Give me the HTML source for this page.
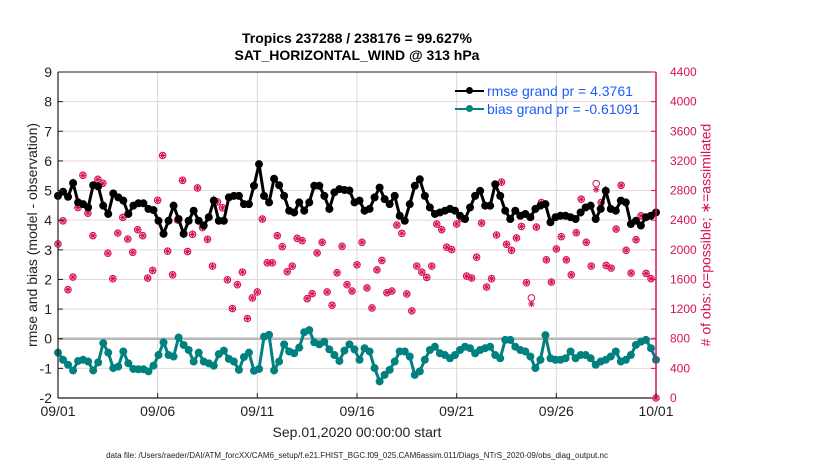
<!DOCTYPE html>
<html><head><meta charset="utf-8"><style>
body{margin:0;background:#fff;}
svg{display:block;font-family:"Liberation Sans",Arial,sans-serif;}
</style></head><body>
<svg id="chart" width="830" height="470"></svg>
<script>
const dayLabels=["09/01","09/06","09/11","09/16","09/21","09/26","10/01"];
const leftTicks=[-2,-1,0,1,2,3,4,5,6,7,8,9];
const rightTicks=[0,400,800,1200,1600,2000,2400,2800,3200,3600,4000,4400];
const rmse=[4.82,4.96,4.79,5.25,4.60,4.54,4.43,5.18,5.14,4.49,4.21,4.90,4.77,4.66,4.21,4.49,4.57,4.57,4.38,4.34,3.98,3.54,3.98,4.49,4.04,3.54,3.98,4.32,3.98,3.82,
4.10,4.66,3.98,3.98,4.77,4.82,4.82,4.54,4.54,5.16,5.89,4.82,4.60,5.40,5.18,4.82,4.32,4.26,4.60,4.32,4.60,5.16,5.16,4.82,4.38,4.94,5.05,5.02,5.00,4.60,4.66,
4.32,4.38,4.77,5.10,4.71,4.54,4.82,4.15,3.98,4.54,5.16,5.38,4.82,4.43,4.21,4.26,4.32,4.38,4.32,4.15,4.04,4.43,4.82,4.99,4.49,4.49,5.21,4.82,4.32,4.04,4.32,4.15,4.21,4.10,4.38,4.49,4.54,3.93,4.10,4.15,4.15,4.10,4.04,4.26,4.43,4.49,4.04,4.38,4.99,4.38,4.32,4.66,4.60,3.87,3.98,3.82,4.10,4.15,4.26];
const bias=[-0.47,-0.71,-0.88,-1.07,-0.75,-0.71,-0.77,-1.07,-0.80,-0.15,-0.47,-0.99,-0.94,-0.43,-0.83,-1.02,-1.03,-1.03,-1.10,-0.91,-0.55,-0.12,-0.55,-0.60,0.04,-0.21,-0.38,-0.77,-0.47,-0.77,
-0.83,-0.91,-0.52,-0.40,-0.68,-0.77,-1.05,-0.62,-0.47,-1.08,-1.02,0.07,0.13,-1.07,-0.77,-0.19,-0.43,-0.49,-0.30,0.22,0.29,-0.12,-0.19,-0.10,-0.36,-0.55,-0.75,-0.40,-0.19,-0.36,-0.71,
-0.32,-0.43,-0.99,-1.44,-1.22,-1.05,-0.77,-0.43,-0.43,-0.60,-1.22,-1.10,-0.71,-0.38,-0.27,-0.49,-0.55,-0.66,-0.55,-0.38,-0.27,-0.32,-0.49,-0.38,-0.32,-0.27,-0.55,-0.66,-0.04,-0.04,-0.27,-0.38,-0.43,-0.60,-0.99,-0.71,0.12,-0.66,-0.71,-0.71,-0.66,-0.43,-0.66,-0.55,-0.55,-0.66,-0.88,-0.77,-0.71,-0.60,-0.43,-0.77,-0.71,-0.55,-0.21,-0.10,-0.04,-0.32,-0.71];
const obs=[2079,2392,1462,1632,2571,3005,2495,2191,2951,2898,1954,1610,2227,2437,2146,1967,2272,2191,1619,1722,2669,3273,1981,1663,2401,2938,1976,2209,2835,2300,2142,1780,2647,2567,1596,1207,1529,1699,1073,1350,1431,2415,1824,1824,2191,2043,1704,1780,2155,2124,1341,1408,1958,2102,1431,1252,1690,2048,1529,1444,1798,2102,
1485,1216,1730,1856,1422,1444,2334,2222,1404,1176,1780,1699,1628,1780,2348,2272,2035,2003,2348,2424,1646,1619,1900,2361,1498,1610,2200,2915,2075,1994,2160,2316,1556,1310,2307,2638,1865,1565,2012,2178,1865,1663,2231,2683,2102,1780,2853,2638,1789,1753,2280,2871,1994,1686,2137,2459,1681,1610,0];
const obsOnlyIdx=[95,108];

const NS="http://www.w3.org/2000/svg";
const svg=document.getElementById('chart');
const X0=58,X1=656,Y0=72,Y1=398;
const xs=d=>X0+(d/30)*(X1-X0);
const yl=v=>Y1-(v+2)/11*(Y1-Y0);
const yr=v=>Y1-v/4400*(Y1-Y0);
function el(tag,attrs,parent){const e=document.createElementNS(NS,tag);for(const k in attrs)e.setAttribute(k,attrs[k]);(parent||svg).appendChild(e);return e;}
function txt(s,attrs,parent){const e=el('text',attrs,parent);e.textContent=s;return e;}

const grid=el('g',{});


leftTicks.forEach(v=>{el('line',{x1:X0,x2:X1,y1:yl(v),y2:yl(v),stroke:'#edd3dc','stroke-width':1},grid);});
dayLabels.forEach((l,i)=>{el('line',{x1:xs(i*5),x2:xs(i*5),y1:Y0,y2:Y1,stroke:'#d8d8d8','stroke-width':1},grid);});
const zl=el('line',{x1:X0,x2:X1,y1:yl(0),y2:yl(0),stroke:'#b8b8b8','stroke-width':2.5});



const og=el('g',{stroke:'#d8115a','stroke-width':1,fill:'none'});


const ostep=30/(obs.length-1);
obs.forEach((v,i)=>{
  const cx=xs(i*ostep),cy=yr(v);
  const only=obsOnlyIdx.includes(i);
  const g=el('g',{},og);
  
  
  el('circle',{cx:cx,cy:only?cy-3:cy,r:3.3},g);
  const a=3.3,ay=only?cy+3:cy;
  el('line',{x1:cx-a,x2:cx+a,y1:ay,y2:ay},g);
  el('line',{x1:cx,x2:cx,y1:ay-a,y2:ay+a},g);
  el('line',{x1:cx-2.3,x2:cx+2.3,y1:ay-2.3,y2:ay+2.3},g);
  el('line',{x1:cx-2.3,x2:cx+2.3,y1:ay+2.3,y2:ay-2.3},g);
});

function series(data,color,name){
  const g=el('g',{});
  
  
  const step=30/(data.length-1);
  el('polyline',{points:data.map((v,i)=>xs(i*step)+','+yl(v)).join(' '),fill:'none',stroke:color,'stroke-width':3},g);
  data.forEach((v,i)=>{
    const c=el('circle',{cx:xs(i*step),cy:yl(v),r:4,fill:color},g);
    
    
  });
}
series(rmse,'#000','rmse-series');
series(bias,'#00807f','bias-series');

const ax=el('g',{});


el('line',{x1:X0,x2:X0,y1:Y0,y2:Y1,stroke:'#2a1a1a','stroke-width':1.2},ax);
el('line',{x1:X0,x2:X1,y1:Y1,y2:Y1,stroke:'#2a1a1a','stroke-width':1.2},ax);
el('line',{x1:X0,x2:X1,y1:Y0,y2:Y0,stroke:'#2a1a1a','stroke-width':1},ax);
el('line',{x1:X1,x2:X1,y1:Y0,y2:Y1,stroke:'#d8115a','stroke-width':1.5},ax);
leftTicks.forEach(v=>{
  el('line',{x1:X0,x2:X0+5,y1:yl(v),y2:yl(v),stroke:'#2a1a1a'},ax);
  const t=txt(String(v),{x:X0-6,y:yl(v)+5,'text-anchor':'end','font-size':14,fill:'#222'},ax);
  
  
});
rightTicks.forEach(v=>{
  el('line',{x1:X1-5,x2:X1,y1:yr(v),y2:yr(v),stroke:'#d8115a'},ax);
  const t=txt(String(v),{x:X1+14,y:yr(v)+4,'font-size':12,fill:'#d8115a'},ax);
  
  
});
dayLabels.forEach((l,i)=>{
  el('line',{x1:xs(i*5),x2:xs(i*5),y1:Y1-5,y2:Y1,stroke:'#2a1a1a'},ax);
  const t=txt(l,{x:xs(i*5),y:416,'text-anchor':'middle','font-size':14,fill:'#222'},ax);
  
  
});
</script>
<div style="position:absolute;left:0;top:0;width:830px;height:470px;pointer-events:none;font-family:'Liberation Sans',Arial,sans-serif;">
  <div style="position:absolute;left:0;width:714px;top:30px;text-align:center;font-weight:bold;font-size:14px;line-height:17px;color:#000;">Tropics 237288 / 238176 = 99.627%<br>SAT_HORIZONTAL_WIND @ 313 hPa</div>
  <div style="position:absolute;left:32px;top:235px;transform:translate(-50%,-50%) rotate(-90deg);white-space:nowrap;font-size:14px;color:#222;">rmse and bias (model - observation)</div>
  <div style="position:absolute;left:706px;top:235px;transform:translate(-50%,-50%) rotate(-90deg);white-space:nowrap;font-size:14px;color:#d8115a;"># of obs: o=possible; &#x2217;=assimilated</div>
  <div style="position:absolute;left:0;width:714px;top:424px;text-align:center;font-size:14px;color:#222;">Sep.01,2020 00:00:00 start</div>
  <div style="position:absolute;left:0;width:714px;top:451px;text-align:center;font-size:8px;color:#222;">data file: /Users/raeder/DAI/ATM_forcXX/CAM6_setup/f.e21.FHIST_BGC.f09_025.CAM6assim.011/Diags_NTrS_2020-09/obs_diag_output.nc</div>
  <div style="position:absolute;left:455px;top:82px;font-size:14px;color:#1a5cff;line-height:18px;">
    <div style="position:relative;padding-left:32px;"><span style="position:absolute;left:0;top:8px;width:29px;height:2px;background:#000;"></span><span style="position:absolute;left:11px;top:5px;width:7px;height:7px;border-radius:50%;background:#000;"></span>rmse grand pr = 4.3761</div>
    <div style="position:relative;padding-left:32px;"><span style="position:absolute;left:0;top:8px;width:29px;height:2px;background:#00807f;"></span><span style="position:absolute;left:11px;top:5px;width:7px;height:7px;border-radius:50%;background:#00807f;"></span>bias grand pr = -0.61091</div>
  </div>
</div>
</body></html>
